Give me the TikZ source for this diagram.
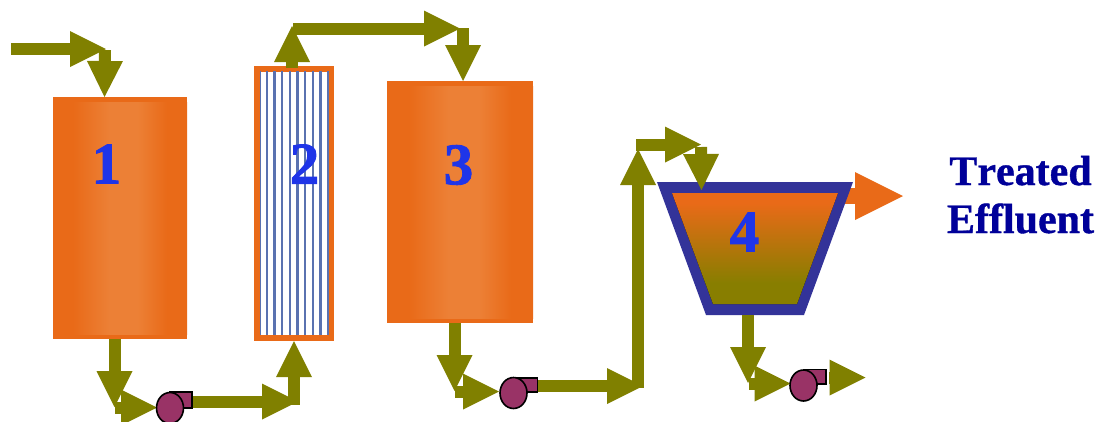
\documentclass[tikz,border=0pt]{standalone}
\usepackage{fontspec}
\setmainfont{Liberation Serif}
\newfontfamily\heavyserif[FakeBold=0.9,Kerning=Off,Ligatures=NoCommon]{Liberation Serif Bold}
\newfontfamily\digitserif[FakeBold=1.6]{Liberation Serif Bold}
\usetikzlibrary{arrows.meta,shapes.geometric}
\definecolor{tankor}{HTML}{E96A18}
\definecolor{tanklt}{HTML}{EC8036}
\definecolor{oliveflow}{HTML}{808000}
\definecolor{setolive}{HTML}{887E00}
\definecolor{setblue}{HTML}{333399}
\definecolor{stripeblue}{HTML}{5A72B0}
\definecolor{digitblue}{HTML}{1F35E8}
\definecolor{navytext}{HTML}{000099}
\definecolor{pumpred}{HTML}{993366}
\pgfdeclarehorizontalshading{tankshade}{100bp}{color(0bp)=(tankor); color(32.5bp)=(tankor); color(46bp)=(tanklt); color(56.5bp)=(tanklt); color(67.5bp)=(tankor); color(100bp)=(tankor)}
\pgfdeclareverticalshading{settlershade}{100bp}{color(0bp)=(setolive); color(34.5bp)=(setolive); color(70.5bp)=(tankor); color(100bp)=(tankor)}
\tikzset{
  flow/.style={draw=oliveflow,line width=12pt,-{Triangle[width=36pt,length=36pt,line width=0pt,fill=oliveflow]}},
  outflow/.style={draw=tankor,line width=16pt,-{Triangle[width=48pt,length=48pt,line width=0pt,fill=tankor]}},
  tankbody/.style={rectangle,fill=tankor,inner sep=0pt,outer sep=0pt},
  digit/.style={font=\fontsize{59}{59}\digitserif,text=digitblue,inner sep=0pt},
  pumphead/.style={ellipse,draw=black,line width=1.6pt,fill=pumpred,inner sep=0pt,minimum width=27pt,minimum height=31pt},
  pumpbody/.style={draw=black,line width=1.6pt,fill=pumpred},
  stripe/.style={draw=stripeblue,line width=2.3pt},
  label/.style={font=\fontsize{42}{42}\heavyserif,text=navytext,inner sep=0pt}
}
\begin{document}
\begin{tikzpicture}[x=1pt,y=-1pt]
\useasboundingbox (0,0) rectangle (1101,421);
\clip (0,0) rectangle (1101,421);
% tanks
\node[tankbody,minimum width=134pt,minimum height=242pt] (t1) at (120,218) {};
\fill[shading=tankshade] (53,102) rectangle (187,334);
\node[tankbody,minimum width=146pt,minimum height=242pt] (t3) at (460,202) {};
\fill[shading=tankshade] (387,86) rectangle (533,318);
% membrane
\node[rectangle,draw=tankor,line width=6pt,fill=white,inner sep=0pt,minimum width=74pt,minimum height=269.5pt] (t2) at (294,203.25) {};
\foreach \sx in {266.7,274.4,282.1,289.8,297.5,305.2,312.9,320.6}
  \draw[stripe] (\sx,71) -- (\sx,335);
\draw[draw=stripeblue,line width=1pt] (260.3,71) -- (260.3,335);
\draw[draw=stripeblue,line width=1.6pt] (328,71) -- (328,335);
% coordinates
\coordinate (a1s) at (11,49);      \coordinate (a1e) at (106,49);
\coordinate (a2s) at (105,50);     \coordinate (a2e) at (104.5,97);
\coordinate (b1s) at (114.5,339);  \coordinate (b1e) at (114.5,407);
\coordinate (b2s) at (115,407.5);  \coordinate (b2e) at (157,407.5);
\coordinate (c1s) at (192,401.5);  \coordinate (c1e) at (298,401.5);
\coordinate (c2s) at (294,405);    \coordinate (c2e) at (294,341);
\coordinate (d1s) at (292,68);     \coordinate (d1e) at (292,26);
\coordinate (d2s) at (293,28.5);   \coordinate (d2e) at (460,28.5);
\coordinate (d3s) at (463,28);     \coordinate (d3e) at (463,81);
\coordinate (e1s) at (454.5,323);  \coordinate (e1e) at (454.5,391);
\coordinate (e2s) at (455,391.5);  \coordinate (e2e) at (499,391.5);
\coordinate (f1s) at (537,386);    \coordinate (f1e) at (643,386);
\coordinate (f2s) at (638,388);    \coordinate (f2e) at (638,149);
\coordinate (f3s) at (636,144.5);  \coordinate (f3e) at (701,144.5);
\coordinate (f4s) at (701,147);    \coordinate (f4e) at (701.5,190);
\coordinate (g1s) at (748,315);    \coordinate (g1e) at (748,383);
\coordinate (g2s) at (749,383.5);  \coordinate (g2e) at (790.5,383.5);
\coordinate (g3s) at (829,377.5);  \coordinate (g3e) at (865.5,377.5);
\coordinate (h1s) at (840,196);    \coordinate (h1e) at (903,196);
% orange outlet
\draw[outflow] (h1s) -- (h1e);
% settler
\fill[setblue] (657,182) -- (853,182) -- (804,315) -- (706,315) -- cycle;
\fill[shading=settlershade] (672,193) -- (838,193) -- (797,304) -- (713,304) -- cycle;
% flows
\draw[flow] (a1s) -- (a1e);
\draw[flow] (a2s) -- (a2e);
\draw[flow] (b1s) -- (b1e);
\draw[flow] (b2s) -- (b2e);
\draw[flow] (c1s) -- (c1e);
\draw[flow] (c2s) -- (c2e);
\draw[flow] (d1s) -- (d1e);
\draw[flow] (d2s) -- (d2e);
\draw[flow] (d3s) -- (d3e);
\draw[flow] (e1s) -- (e1e);
\draw[flow] (e2s) -- (e2e);
\draw[flow] (f1s) -- (f1e);
\draw[flow] (f2s) -- (f2e);
\draw[flow] (f3s) -- (f3e);
\draw[flow] (f4s) -- (f4e);
\draw[flow] (g1s) -- (g1e);
\draw[flow] (g2s) -- (g2e);
\draw[flow] (g3s) -- (g3e);
% pumps
\draw[pumpbody] (170,392) rectangle (192,408);
\node[pumphead] (p1) at (170,408) {};
\draw[pumpbody] (513,377.7) rectangle (537.5,392);
\node[pumphead] (p2) at (513.5,393) {};
\draw[pumpbody] (804,369.5) rectangle (826,384);
\node[pumphead] (p3) at (803.5,385.5) {};
% labels
\node[digit] (n1) at (106.5,164) {1};
\node[digit] (n2) at (304.5,164) {2};
\node[digit] (n3) at (458.5,165) {3};
\node[digit] (n4) at (744.5,232) {4};
\node[label,anchor=base] (l1) at (1020.5,185) {Treated};
\node[label,anchor=base] (l2) at (1020.5,233) {Effluent};
\end{tikzpicture}
\end{document}
